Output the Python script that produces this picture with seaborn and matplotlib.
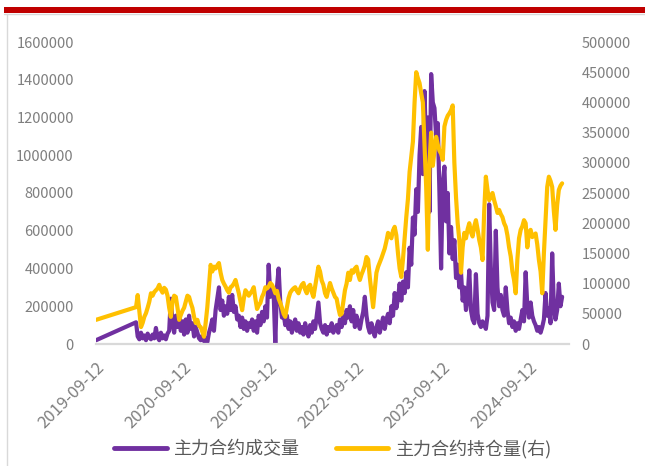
import matplotlib
matplotlib.use("Agg")
import matplotlib.pyplot as plt
from matplotlib.lines import Line2D
from matplotlib.patches import Rectangle
import pandas as pd
import seaborn as sns

# ---------------- DATA ----------------
# first point on its own, then weekly points (values in thousands)
FIRST_DATE = "2019-09-12"
WEEKLY_START = "2020-02-28"

first_volume_k = 20
first_oi_k = 40

# 主力合约成交量 (left axis), thousands
volume_k = [
    115, 40, 25, 60, 30, 45, 20, 55, 35, 25,
    50, 30, 85, 35, 20, 60, 30, 45, 25, 55,
    70, 240, 110, 60, 150, 90, 160, 70, 120, 50,
    130, 60, 150, 80, 110, 40, 90, 60, 30, 20,
    45, 15, 30, 10, 60, 90, 130, 70, 180, 240,
    300, 180, 230, 150, 200, 160, 250, 180, 260, 170,
    200, 130, 150, 90, 140, 80, 120, 70, 110, 90,
    130, 70, 120, 60, 150, 100, 170, 120, 200, 140,
    420, 250, 300, 270, 0, 300, 400, 220, 140, 160,
    100, 150, 80, 120, 60, 100, 130, 70, 110, 60,
    90, 50, 110, 70, 40, 100, 60, 120, 80, 150,
    220, 110, 80, 60, 100, 50, 90, 70, 110, 60,
    80, 100, 60, 130, 90, 150, 110, 180, 140, 200,
    120, 180, 90, 150, 110, 80, 130, 170, 250, 150,
    90, 60, 110, 70, 40, 90, 120, 60, 100, 140,
    80, 130, 160, 110, 200, 150, 270, 190, 240, 320,
    230, 330, 270, 380, 300, 510, 420, 670, 580, 820,
    700, 1000, 1150, 900, 1340, 1000, 1200, 700, 1430, 1280,
    1250, 1100, 1170, 800, 400, 850, 940, 650, 800, 480,
    620, 450, 550, 350, 420, 300, 380, 230, 300, 180,
    250, 390, 180, 130, 110, 370, 160, 110, 90, 120,
    100, 80, 150, 740, 400, 220, 180, 600, 300, 200,
    260, 180, 150, 300, 180, 110, 140, 90, 120, 70,
    110, 80, 130, 180, 120, 380, 200, 140, 220, 150,
    120, 100, 70, 90, 60, 90, 130, 270, 150, 190,
    110, 480, 200, 130, 180, 320, 200, 250,
]

# 主力合约持仓量 (right axis), thousands
oi_k = [
    61, 81, 55, 28, 35, 45, 51, 60, 70, 84,
    80, 86, 89, 92, 98, 90, 85, 93, 90, 80,
    60, 45, 70, 80, 78, 60, 40, 48, 55, 60,
    70, 80, 78, 68, 60, 45, 35, 40, 30, 28,
    20, 12, 35, 61, 95, 131, 120, 128, 125, 130,
    134, 118, 106, 100, 95, 89, 85, 94, 96, 100,
    106, 95, 84, 70, 56, 75, 89, 85, 80, 84,
    88, 94, 75, 58, 64, 68, 78, 84, 94, 92,
    95, 101, 98, 92, 84, 88, 75, 68, 60, 50,
    45, 60, 76, 85, 89, 92, 94, 88, 84, 92,
    98, 101, 90, 84, 95, 98, 86, 78, 95, 112,
    128, 120, 105, 98, 84, 78, 90, 101, 92, 85,
    78, 75, 60, 48, 50, 70, 89, 100, 118, 106,
    122, 118, 125, 128, 115, 106, 115, 122, 130, 144,
    140, 110, 85, 61, 90, 118, 128, 135, 142, 150,
    158, 170, 184, 180, 175, 188, 194, 180, 150, 125,
    111, 140, 175, 210, 240, 285, 310, 335, 400, 450,
    440, 432, 415, 400, 330, 260, 156, 300, 350, 295,
    320, 343, 330, 320, 315, 305, 360, 371, 378, 382,
    387, 395, 300, 243, 200, 172, 118, 160, 184, 175,
    190, 200, 185, 178, 195, 205, 190, 172, 160, 139,
    220, 277, 255, 238, 245, 250, 238, 228, 217, 222,
    215, 210, 200, 194, 180, 160, 145, 120, 106, 84,
    140, 175, 189, 195, 205, 200, 160, 185, 189, 177,
    180, 183, 165, 139, 120, 84, 150, 205, 260, 277,
    270, 260, 220, 189, 230, 255, 262, 266,
]

tick_dates = ["2019-09-12", "2020-09-12", "2021-09-12",
              "2022-09-12", "2023-09-12", "2024-09-12"]
left_ticks = [0, 200000, 400000, 600000, 800000, 1000000, 1200000, 1400000, 1600000]
right_ticks = [0, 50000, 100000, 150000, 200000, 250000, 300000, 350000, 400000, 450000, 500000]

labels = ["主力合约成交量", "主力合约持仓量(右)"]

# ---------------- BUILD FRAME ----------------
weekly = pd.date_range(WEEKLY_START, periods=len(volume_k), freq="7D")
dates = pd.DatetimeIndex([pd.Timestamp(FIRST_DATE)]).append(weekly)
df = pd.DataFrame({
    "date": dates,
    "volume": [v * 1000 for v in [first_volume_k] + volume_k],
    "oi": [v * 1000 for v in [first_oi_k] + oi_k],
})

PURPLE = "#7030A0"
GOLD = "#FFC000"
GREY_TXT = "#7F7F7F"

# ---------------- PLOT ----------------
sns.set_style("white")
plt.rcParams["font.family"] = ["Noto Sans CJK SC", "DejaVu Sans"]

W, H = 645, 466
fig = plt.figure(figsize=(W / 100, H / 100), dpi=100)
ax = fig.add_axes([96 / W, 1 - 344 / H, 473 / W, 302 / H])
ax2 = ax.twinx()

sns.lineplot(data=df, x="date", y="volume", ax=ax, color=PURPLE,
             linewidth=3.0, legend=False, sort=False)
sns.lineplot(data=df, x="date", y="oi", ax=ax2, color=GOLD,
             linewidth=3.0, legend=False, sort=False)

ax.set_xlim(pd.Timestamp("2019-09-12"), pd.Timestamp("2025-03-01"))
ax.set_ylim(0, 1600000)
ax2.set_ylim(0, 500000)

ax.set_yticks(left_ticks)
ax.set_yticklabels([str(v) for v in left_ticks])
ax2.set_yticks(right_ticks)
ax2.set_yticklabels([str(v) for v in right_ticks])

ax.set_xticks(pd.to_datetime(tick_dates))
ax.set_xticklabels(tick_dates, rotation=45, ha="right", va="top",
                   rotation_mode="anchor")

ax.set_xlabel("")
ax.set_ylabel("")
ax2.set_ylabel("")

ax.tick_params(axis="y", length=0, pad=16, labelsize=10.5, labelcolor=GREY_TXT)
ax2.tick_params(axis="y", length=0, pad=9, labelsize=10.5, labelcolor=GREY_TXT)
ax.tick_params(axis="x", length=0, pad=11, labelsize=12, labelcolor=GREY_TXT)

for s in ["top", "left", "right"]:
    ax.spines[s].set_visible(False)
for s in ax2.spines.values():
    s.set_visible(False)
ax.spines["bottom"].set_color("#D9D9D9")
ax.spines["bottom"].set_linewidth(1.6)
ax.grid(False)
ax2.grid(False)

# ---------------- FRAME DECOR ----------------
fig.add_artist(Rectangle((4 / W, 1 - 13 / H), 1 - 4 / W, 6 / H,
                         transform=fig.transFigure, color="#C00000", lw=0))
fig.add_artist(Line2D([4 / W, 1], [1 - 14 / H, 1 - 14 / H],
                      transform=fig.transFigure, color="#D9D9D9", lw=1))
fig.add_artist(Line2D([7 / W, 7 / W], [0, 1 - 14 / H],
                      transform=fig.transFigure, color="#D9D9D9", lw=1))

# ---------------- LEGEND ----------------
handles = [Line2D([], [], color=PURPLE, lw=3.5),
           Line2D([], [], color=GOLD, lw=3.5)]
fig.legend(handles, labels, loc="center", bbox_to_anchor=(333 / W, 1 - 449 / H),
           ncol=2, frameon=False, fontsize=13, handlelength=2.9,
           handletextpad=0.4, columnspacing=2.0, labelcolor="#595959")

fig.savefig("out.png", dpi=100)
